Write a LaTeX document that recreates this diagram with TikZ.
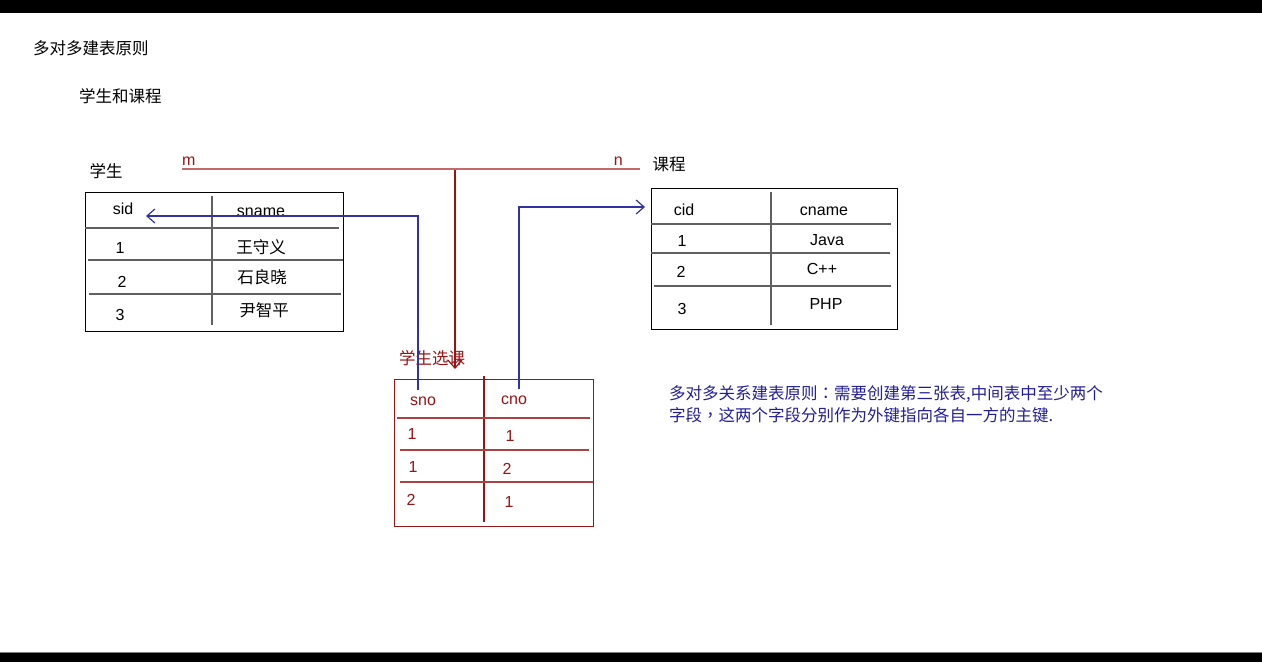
\documentclass[tikz,border=0pt]{standalone}
\usepackage{fontspec}
\setmainfont{Liberation Sans}
\newfontfamily\cjk{Noto Sans CJK SC}
\newfontfamily\cjkpunct{Noto Sans CJK TC}
\usetikzlibrary{
  calc,
  positioning,
  arrows.meta
}
\definecolor{linkred}{RGB}{195,105,105}
\definecolor{darkred}{RGB}{150,20,20}
\definecolor{linkblue}{RGB}{50,50,165}
\definecolor{noteblue}{RGB}{35,30,150}
\tikzset{
  cell/.style={inner sep=0pt, font=\fontsize{16}{19}\selectfont},
  zh/.style={inner sep=0pt, font=\fontsize{16.5}{22}\selectfont\cjk},
  tablebox/.style={draw, line width=1.2pt, inner sep=0pt, anchor=north west},
  rowline/.style={draw=gray!75!black, line width=1.5pt},
}

\begin{document}
\begin{tikzpicture}[x=1pt,y=-1pt,>={Straight Barb[length=8pt,width=14pt]}]
      \useasboundingbox (0,0) rectangle (1262,662);
      \fill[black] (0,0) rectangle (1262,13);
      \fill[black] (0,653) rectangle (1262,662);
      \draw[gray, line width=1pt] (0,652.5) -- (1262,652.5);

      % titles
      \node[zh, anchor=west] (title) at (33,48) {多对多建表原则};
      \node[zh, anchor=west] (subtitle) at (79,96) {学生和课程};

      % student table
      \node[zh] (stuname) at (106,171) {学生};
      \node[tablebox, minimum width=258, minimum height=139] (student) at (85,192) {};
      \draw[rowline] (212,196) -- (212,325);
      \draw[rowline] (85,228) -- (339,228);
      \draw[rowline] (88,260) -- (343,260);
      \draw[rowline] (89,294) -- (341,294);
      \node[cell] (sid) at (123,209) {sid};
      \node[cell] (sname) at (261,212) {sname};
      \node[cell] (stu1) at (120,248) {1};
      \node[zh] (stu1name) at (261,247) {王守义};
      \node[cell] (stu2) at (122,282) {2};
      \node[zh] (stu2name) at (262,277) {石良晓};
      \node[cell] (stu3) at (120,315) {3};
      \node[zh] (stu3name) at (264,310) {尹智平};

      % course table
      \node[zh] (couname) at (669,164) {课程};
      \node[tablebox, minimum width=246, minimum height=141] (course) at (651,188) {};
      \draw[rowline] (771,192) -- (771,325);
      \draw[rowline] (651,224) -- (891,224);
      \draw[rowline] (651,253) -- (890,253);
      \draw[rowline] (654,286) -- (891,286);
      \node[cell] (cid) at (684,210) {cid};
      \node[cell] (cname) at (824,211) {cname};
      \node[cell] (cou1) at (682,241) {1};
      \node[cell] (cou1name) at (827,240) {Java};
      \node[cell] (cou2) at (681,272) {2};
      \node[cell] (cou2name) at (822,269) {C++};
      \node[cell] (cou3) at (682,309) {3};
      \node[cell] (cou3name) at (826,304) {PHP};

      % m : n line
      \coordinate (mstart) at (182,169);
      \coordinate (nend) at (640,169);
      \draw[linkred, line width=1.2pt] (mstart) -- (nend);
      \node[cell, darkred, above right=3pt and 0pt of mstart] (m) {m};
      \node[cell, darkred, above left=3pt and 17pt of nend] (n) {n};

      % selection table
      \node[zh, darkred, anchor=west] (selname) at (399,358) {学生选课};
      \node[tablebox, draw=darkred, minimum width=199, minimum height=147] (select) at (394,379) {};
      \draw[darkred, line width=1.2pt] (484,376) -- (484,522);
      \draw[darkred!80, line width=1.5pt] (397,418) -- (590,418);
      \draw[darkred!80, line width=1.5pt] (400,450) -- (589,450);
      \draw[darkred!80, line width=1.5pt] (400,482) -- (593,482);
      \node[cell, darkred] (sno) at (423,401) {sno};
      \node[cell, darkred] (cno) at (514,400) {cno};
      \node[cell, darkred] (sel1s) at (412,434) {1};
      \node[cell, darkred] (sel1c) at (510,436) {1};
      \node[cell, darkred] (sel2s) at (413,467) {1};
      \node[cell, darkred] (sel2c) at (507,469) {2};
      \node[cell, darkred] (sel3s) at (411,500) {2};
      \node[cell, darkred] (sel3c) at (509,502) {1};

      % m:n -> selection table
      \coordinate (mid) at (455,170);
      \coordinate (seltip) at (455,369);
      \draw[->, darkred, line width=1.2pt] (mid) -- (seltip);

      % foreign keys
      \coordinate (snotop) at (418,390);
      \coordinate (sidtip) at (146,216);
      \draw[->, linkblue, line width=1.2pt] (snotop) |- (sidtip);
      \coordinate (cnotop) at (519,389);
      \coordinate (cidtip) at (645,207);
      \draw[->, linkblue, line width=1.2pt] (cnotop) |- (cidtip);

      % note
      \node[zh, noteblue, anchor=west, align=left] (note) at (669,404)
        {多对多关系建表原则{\cjkpunct ：}需要创建第三张表,中间表中至少两个\\字段{\cjkpunct ，}这两个字段分别作为外键指向各自一方的主键.};
\end{tikzpicture}
\end{document}
